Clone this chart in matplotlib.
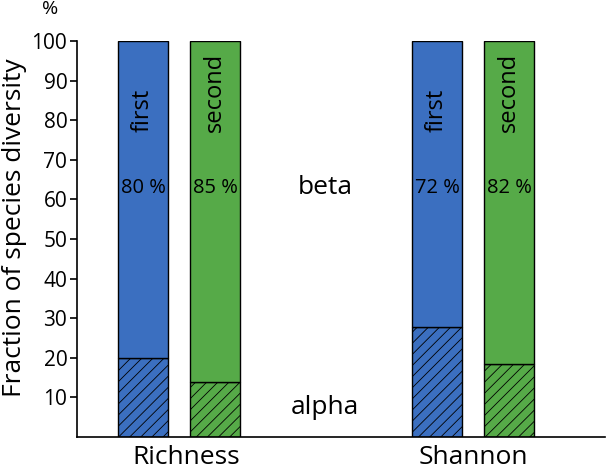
import matplotlib
matplotlib.use("Agg")
import matplotlib.pyplot as plt

plt.rcParams['font.family'] = ['Open Sans', 'DejaVu Sans']
plt.rcParams['hatch.linewidth'] = 0.6

# data
groups = ['Richness', 'Shannon']
series = ['first', 'second']
alpha_vals = [[20, 14], [27.7, 18.5]]   # alpha part (%)
beta_labels = [['80 %', '85 %'], ['72 %', '82 %']]
colors = ['#3b6fc0', '#56aa48']

fig = plt.figure(figsize=(6.08, 4.70), dpi=100)
ax = fig.add_axes([77/608, 1 - 437/470, 528/608, 396/470])

offset = 0.1224
width = 0.17
for gi, g in enumerate(groups):
    for si, s in enumerate(series):
        x = gi + (si - 0.5) * 2 * offset
        a = alpha_vals[gi][si]
        ax.bar(x, a, width, color=colors[si], edgecolor='black', linewidth=1.0,
               hatch='///')
        ax.bar(x, 100 - a, width, bottom=a, color=colors[si], edgecolor='black',
               linewidth=1.0)
        ax.text(x, 77, s, rotation=90, ha='center', va='bottom', fontsize=17)
        ax.text(x, 63, beta_labels[gi][si], ha='center', va='center', fontsize=14.5)

ax.text(0.497, 63, 'beta', ha='center', va='center', fontsize=19)
ax.text(0.497, 7.5, 'alpha', ha='center', va='center', fontsize=19)

ax.set_xlim(-0.347, 1.449)
ax.set_ylim(0, 100)
ax.set_yticks(range(10, 101, 10))
ax.set_xticks([0.024, 1.0])
ax.set_xticklabels(groups, fontsize=19)
ax.tick_params(axis='x', length=0, pad=6)
ax.tick_params(axis='y', direction='out', length=5, width=1.2, labelsize=15, pad=2)
for side in ['top', 'right']:
    ax.spines[side].set_visible(False)
for side in ['left', 'bottom']:
    ax.spines[side].set_linewidth(1.2)

fig.text(15/608, 1 - 228/470, 'Fraction of species diversity', rotation=90,
         ha='center', va='center', fontsize=19)
fig.text(50/608, 1 - 9/470, '%', ha='center', va='center', fontsize=14)

fig.savefig('out.png', dpi=100)
